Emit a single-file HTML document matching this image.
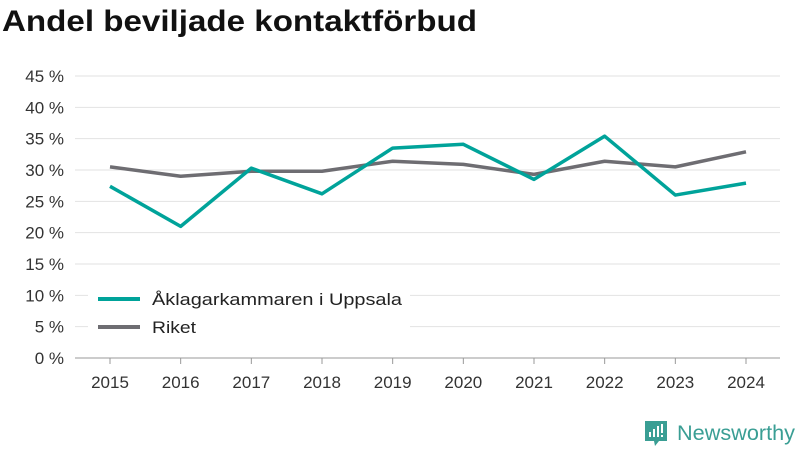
<!DOCTYPE html>
<html><head><meta charset="utf-8"><style>
body{margin:0;width:800px;height:450px;background:#fff;font-family:"Liberation Sans",sans-serif;overflow:hidden}
svg{position:absolute;left:0;top:0}
</style></head><body>
<svg width="800" height="450">
<text x="2" y="31" font-size="30" font-weight="bold" fill="#111" textLength="475" lengthAdjust="spacingAndGlyphs">Andel beviljade kontaktförbud</text>
<g id="grid"></g><g id="lines"></g>
<g>
<rect x="88" y="285" width="322" height="58" fill="#fff"/>
<line x1="98" y1="299" x2="140" y2="299" stroke="#00a39a" stroke-width="4"/>
<text x="152" y="305" font-size="17" fill="#222" textLength="250" lengthAdjust="spacingAndGlyphs">Åklagarkammaren i Uppsala</text>
<line x1="98" y1="327" x2="140" y2="327" stroke="#6e6d72" stroke-width="4"/>
<text x="152" y="333" font-size="17" fill="#222" textLength="44" lengthAdjust="spacingAndGlyphs">Riket</text>
</g>
<g>
<path d="M645 421 h22 v20 h-8 l-4 5 l-1-5 h-9 z" fill="#3a9e94"/>
<rect x="649" y="432" width="2" height="5" fill="#fff"/><rect x="653" y="429" width="2" height="8" fill="#fff"/><rect x="657" y="426" width="2" height="11" fill="#fff"/><rect x="661" y="424" width="2" height="9" fill="#fff"/><rect x="661" y="435" width="2" height="2" fill="#fff"/>
<text x="677" y="440" font-size="21" fill="#3a9e94" textLength="118" lengthAdjust="spacingAndGlyphs">Newsworthy</text>
</g>
</svg>
<script>
const years=[2015,2016,2017,2018,2019,2020,2021,2022,2023,2024];
const uppsala=[27.4,21.0,30.3,26.2,33.5,34.1,28.5,35.4,26.0,27.9];
const riket=[30.5,29.0,29.8,29.8,31.4,30.9,29.3,31.4,30.5,32.9];
const yTicks=[0,5,10,15,20,25,30,35,40,45];
const NS="http://www.w3.org/2000/svg";
const x=i=>110+i*(746-110)/(years.length-1);
const y=v=>358-v*(358-76)/45;
const grid=document.getElementById('grid'),lines=document.getElementById('lines');
function mk(tag,attrs,parent){const e=document.createElementNS(NS,tag);for(const k in attrs)e.setAttribute(k,attrs[k]);parent.appendChild(e);return e;}
yTicks.forEach(t=>{
 const l=mk('line',{x1:75,x2:780,y1:y(t),y2:y(t),stroke:t===0?'#999':'#e2e2e2','stroke-width':1},grid);
 
 
 const tx=mk('text',{x:64,y:y(t)+6,'font-size':17,fill:'#333','text-anchor':'end'},grid);
 tx.textContent=t+' %';
 
 
});
years.forEach((yr,i)=>{
 const tk=mk('line',{x1:x(i),x2:x(i),y1:358,y2:364,stroke:'#999'},grid);
 
 
 const tx=mk('text',{x:x(i),y:388,'font-size':17,fill:'#333','text-anchor':'middle'},grid);
 tx.textContent=yr;
 
 
});
function series(vals,color,name){
 const p=mk('polyline',{points:vals.map((v,i)=>x(i)+','+y(v)).join(' '),fill:'none',stroke:color,'stroke-width':3.5,'stroke-linejoin':'round'},lines);
 
 
}
series(riket,'#6e6d72','line-riket');
series(uppsala,'#00a39a','line-uppsala');
</script>
</body></html>
